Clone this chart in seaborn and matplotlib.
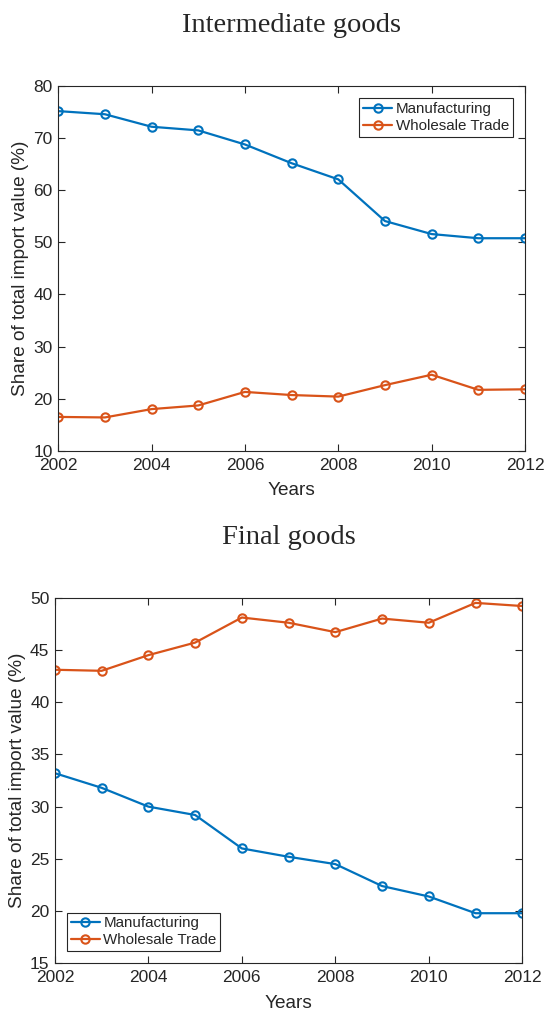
import numpy as np
import pandas as pd
import seaborn as sns
from matplotlib import pyplot as plt

years = [2002, 2003, 2004, 2005, 2006, 2007, 2008, 2009, 2010, 2011, 2012]

inter_manuf = [75.2, 74.6, 72.2, 71.5, 68.8, 65.2, 62.1, 54.1, 51.6, 50.8, 50.8]
inter_whole = [16.5, 16.4, 18.0, 18.7, 21.3, 20.7, 20.4, 22.6, 24.6, 21.7, 21.8]

final_manuf = [33.2, 31.8, 30.0, 29.2, 26.0, 25.2, 24.5, 22.4, 21.4, 19.8, 19.8]
final_whole = [43.1, 43.0, 44.5, 45.7, 48.1, 47.6, 46.7, 48.0, 47.6, 49.5, 49.2]

series_names = ["Manufacturing", "Wholesale Trade"]
colors = {"Manufacturing": "#0072BD", "Wholesale Trade": "#D95319"}

sns.set_theme(style="ticks")
plt.rcParams['font.family'] = ['Liberation Sans', 'DejaVu Sans']


def long_form(manuf, whole):
	return pd.DataFrame({
		"year": years * 2,
		"value": manuf + whole,
		"sector": [series_names[0]] * len(years) + [series_names[1]] * len(years),
	})


def panel(ax, df, title, ylim, yticks, legend_loc):
	sns.lineplot(data=df, x="year", y="value", hue="sector", palette=colors,
		marker="o", markersize=6, markerfacecolor="none", markeredgewidth=1.5,
		linewidth=1.6, ax=ax)
	for line in ax.lines:
		line.set_markeredgecolor(line.get_color())
	ax.set_xlim(2002, 2012)
	ax.set_ylim(*ylim)
	ax.set_xticks(range(2002, 2013, 2))
	ax.set_yticks(yticks)
	ax.tick_params(direction="in", top=True, right=True, length=5, width=0.8,
		labelsize=12.5, colors="#262626")
	ax.tick_params(axis="x", pad=5)
	ax.tick_params(axis="y", pad=4)
	for s in ax.spines.values():
		s.set_linewidth(0.8)
		s.set_color("#262626")
	ax.set_xlabel("Years", fontsize=13.7, color="#262626", labelpad=7)
	ax.set_ylabel("Share of total import value (%)", fontsize=13.7, color="#262626", labelpad=3)
	ax.set_title(title, fontsize=20.5, family="Liberation Serif", pad=39)
	leg = ax.legend(loc=legend_loc, fontsize=10.9, frameon=True, fancybox=False,
		edgecolor="#262626", framealpha=1, handlelength=1.9, borderpad=0.25,
		labelspacing=0.2, handletextpad=0.25, borderaxespad=0.8)
	leg.get_frame().set_linewidth(0.8)
	for h in leg.get_lines():
		h.set_markerfacecolor("none")
		h.set_markeredgecolor(h.get_color())


fig = plt.figure(figsize=(5.44, 10.13), dpi=100)
ax1 = fig.add_axes([0.107, 0.555, 0.858, 0.360])
ax2 = fig.add_axes([0.101, 0.049, 0.859, 0.361])

panel(ax1, long_form(inter_manuf, inter_whole), "Intermediate goods",
	(10, 80), range(10, 81, 10), "upper right")
panel(ax2, long_form(final_manuf, final_whole), "Final goods",
	(15, 50), range(15, 51, 5), "lower left")

fig.savefig("out.png", dpi=100, facecolor="white")
